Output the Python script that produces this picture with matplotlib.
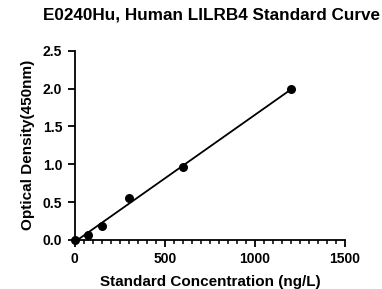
import numpy as np
import matplotlib.pyplot as plt
from matplotlib.ticker import MultipleLocator

plt.rcParams['font.family'] = 'Liberation Sans'
plt.rcParams['font.weight'] = 'bold'

conc = [0, 75, 150, 300, 600, 1200]
od = [0.0, 0.07, 0.18, 0.55, 0.96, 1.99]

fig = plt.figure(figsize=(3.82, 2.89), dpi=100)
ax = fig.add_axes([0.196, 0.170, 0.707, 0.654])

slope, icpt = np.polyfit(conc, od, 1)
xs = np.array([0, max(conc)])
ax.plot(xs, slope * xs + icpt, color='black', lw=1.3, zorder=2)
ax.scatter(conc, od, s=30, color='black', zorder=3, clip_on=False)

ax.set_xlim(0, 1500)
ax.set_ylim(0, 2.5)
ax.xaxis.set_major_locator(MultipleLocator(500))
ax.xaxis.set_minor_locator(MultipleLocator(50))
ax.yaxis.set_major_locator(MultipleLocator(0.5))
ax.yaxis.set_major_formatter(plt.FuncFormatter(lambda v, p: f'{v:.1f}'))
ax.xaxis.set_major_formatter(plt.FuncFormatter(lambda v, p: f'{v:.0f}'))

for s in ['top', 'right']:
    ax.spines[s].set_visible(False)
for s in ['left', 'bottom']:
    ax.spines[s].set_linewidth(1.3)
ax.tick_params(which='major', length=5, width=1.3, labelsize=10, pad=4)
ax.tick_params(which='minor', length=3, width=1.1)

ax.set_xlabel('Standard Concentration (ng/L)', fontsize=11, fontweight='bold', labelpad=6)
ax.set_ylabel('Optical Density(450nm)', fontsize=11, fontweight='bold', labelpad=6)
fig.suptitle('E0240Hu, Human LILRB4 Standard Curve', x=0.553, y=0.975,
             fontsize=12.3, fontweight='bold')

fig.savefig('out.png', dpi=100)
